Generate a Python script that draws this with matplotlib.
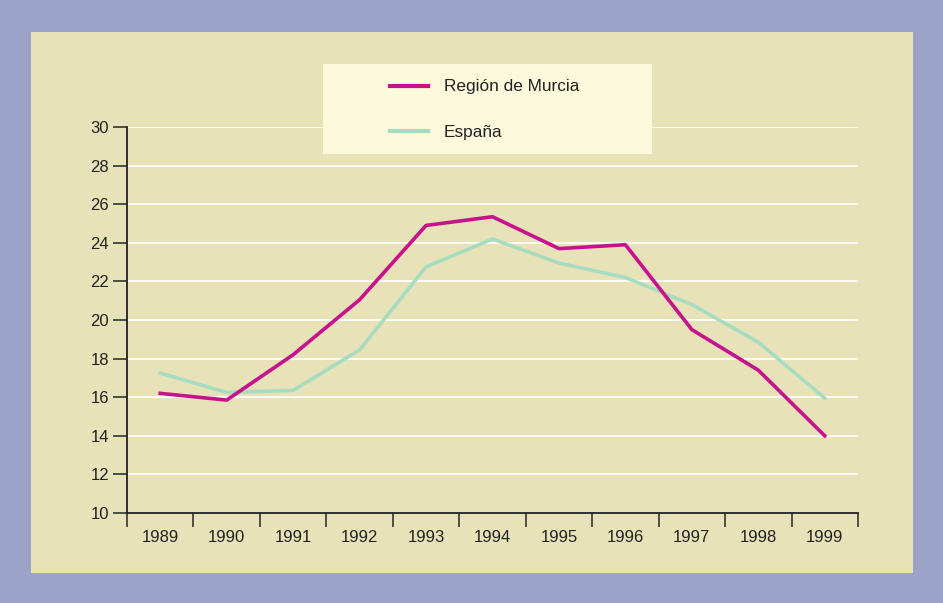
import matplotlib
matplotlib.use('Agg')
import matplotlib.pyplot as plt
from matplotlib.patches import Rectangle
from matplotlib.lines import Line2D

years = ['1989', '1990', '1991', '1992', '1993', '1994', '1995', '1996', '1997', '1998', '1999']
murcia = [16.2, 15.85, 18.2, 21.05, 24.9, 25.35, 23.7, 23.9, 19.5, 17.4, 14.0]
espana = [17.25, 16.25, 16.35, 18.45, 22.75, 24.2, 22.95, 22.2, 20.8, 18.85, 15.95]
series_names = ['Región de Murcia', 'España']
yticks = [10, 12, 14, 16, 18, 20, 22, 24, 26, 28, 30]

plt.rcParams['font.family'] = ['Liberation Sans', 'DejaVu Sans']

W, H = 943, 603
fig = plt.figure(figsize=(W / 100, H / 100), dpi=100)
fig.patch.set_facecolor('#9ca3c8')

# inner panel
fig.patches.append(Rectangle((31 / W, 1 - 573 / H), (913 - 31) / W, (573 - 32) / H,
                             transform=fig.transFigure, facecolor='#e8e2b9',
                             edgecolor='none', zorder=-5))

ax = fig.add_axes([127 / W, 1 - 513 / H, (858 - 127) / W, (513 - 127) / H])
ax.set_zorder(1)
ax.set_facecolor('none')
x = list(range(len(years)))
ax.plot(x, espana, color='#a8dcc0', linewidth=2.6, zorder=3)
ax.plot(x, murcia, color='#c8118c', linewidth=2.6, zorder=4)

ax.set_xlim(-0.5, len(years) - 0.5)
ax.set_ylim(10, 30)
ax.set_yticks(yticks)
ax.set_yticklabels([str(v) for v in yticks], fontsize=12, color='#222222')
ax.set_xticks(x)
ax.set_xticklabels(years, fontsize=12, color='#222222')
ax.tick_params(axis='x', length=0, pad=12)
ax.set_xticks([i - 0.5 for i in range(len(years) + 1)], minor=True)
ax.tick_params(axis='x', which='minor', length=10, width=1.2, color='#333333')
ax.tick_params(axis='y', length=10, width=1.2, color='#333333', pad=3)
for y in yticks[1:]:
    ax.axhline(y, color='white', linewidth=1.2, zorder=1)
for s in ['top', 'right']:
    ax.spines[s].set_visible(False)
for s in ['left', 'bottom']:
    ax.spines[s].set_color('#222222')
    ax.spines[s].set_linewidth(1.3)

# legend box
fig.patches.append(Rectangle((323 / W, 1 - 154 / H), (652 - 323) / W, (154 - 64) / H,
                             transform=fig.transFigure, facecolor='#fdf9dc',
                             edgecolor='none', zorder=5))
for name, col, yy in [(series_names[0], '#c8118c', 86), (series_names[1], '#a8dcc0', 131)]:
    fig.lines.append(Line2D([390 / W, 428 / W], [1 - yy / H, 1 - yy / H],
                            transform=fig.transFigure, color=col, linewidth=3, zorder=6))
    fig.text(444 / W, 1 - (yy + 1) / H, name, fontsize=12.4, color='#222222',
             va='center', ha='left', zorder=7)

fig.savefig('out.png', dpi=100, facecolor=fig.get_facecolor())
